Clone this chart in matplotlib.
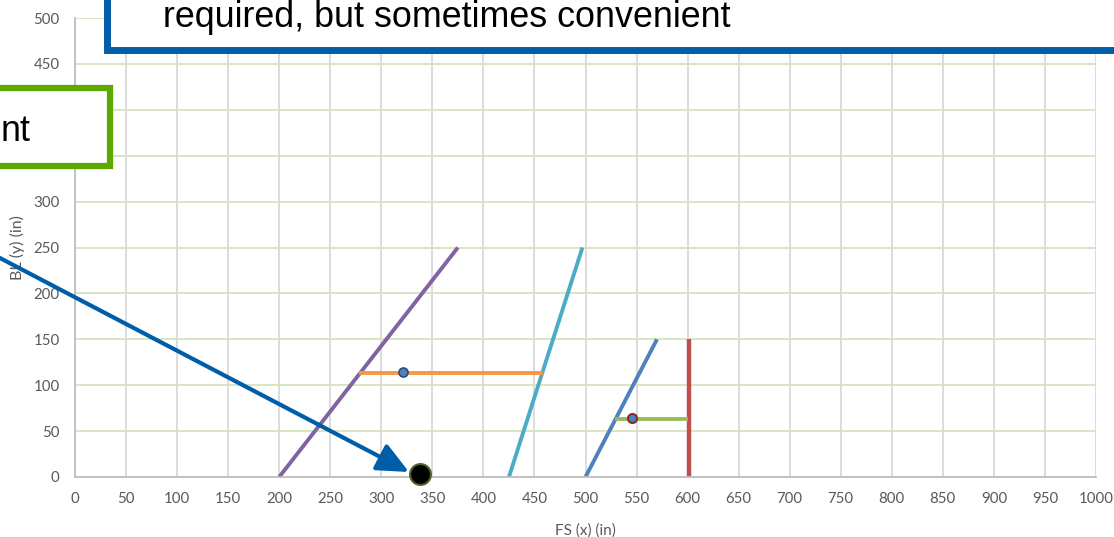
import numpy as np
import matplotlib.pyplot as plt
from matplotlib.patches import Rectangle, FancyArrowPatch

# line segments (FS x, BL y)
purple_x = [200, 375]
purple_y = [0, 250]
cyan_x = [425, 497]
cyan_y = [0, 250]
blue_x = [500, 570]
blue_y = [0, 150]
red_x = [601, 601]
red_y = [0, 150]
orange_x = [278, 458]
orange_y = [113, 113]
green_x = [529, 600]
green_y = [63, 63]
orange_pt = (321, 114)
green_pt = (546, 64)
big_pt = (338, 3)

xticks = np.arange(0, 1001, 50)
yticks = np.arange(0, 501, 50)

W, H = 1114, 537
def px(x, y):
    # pixel (from top-left) -> figure fraction
    return (x / W, 1 - y / H)

fig = plt.figure(figsize=(W / 100, H / 100), dpi=100)
ax = fig.add_axes([75 / W, 1 - 477 / H, (1096 - 75) / W, (477 - 18) / H])

ax.set_xlim(0, 1000)
ax.set_ylim(0, 500)
ax.set_xticks(xticks)
ax.set_yticks(yticks)
ax.tick_params(length=0, labelsize=10.8, labelcolor='#595959', pad=11)
for lab in ax.get_xticklabels() + ax.get_yticklabels():
    lab.set_fontfamily('Lato')
ax.xaxis.grid(True, color='#d9d9d9', lw=1.3)
ax.yaxis.grid(True, color='#d7e4bd', lw=1.3)
ax.set_axisbelow(True)
for s in ['top', 'right']:
    ax.spines[s].set_visible(False)
for s in ['left', 'bottom']:
    ax.spines[s].set_color('#bfbfbf')
    ax.spines[s].set_linewidth(1.3)

ax.set_xlabel('FS (x) (in)', fontsize=11, color='#595959', family='Lato', labelpad=12)
ax.set_ylabel('BL (y) (in)', fontsize=11.5, color='#595959', family='Lato', labelpad=6)

ax.plot(purple_x, purple_y, color='#8064a2', lw=2.8, solid_capstyle='butt', clip_on=False)
ax.plot(cyan_x, cyan_y, color='#4bacc6', lw=2.8, solid_capstyle='butt', clip_on=False)
ax.plot(blue_x, blue_y, color='#4f81bd', lw=2.8, solid_capstyle='butt', clip_on=False)
ax.plot(red_x, red_y, color='#c0504d', lw=3.2, solid_capstyle='butt', clip_on=False)
ax.plot(orange_x, orange_y, color='#f79646', lw=2.8, solid_capstyle='butt')
ax.plot(green_x, green_y, color='#9bbb59', lw=2.8, solid_capstyle='butt')
ax.plot(*orange_pt, 'o', ms=6.5, mfc='#4f81bd', mec='#2c4d75', mew=1.2)
ax.plot(*green_pt, 'o', ms=6.5, mfc='#4f81bd', mec='#8b2a2a', mew=1.5)
ax.plot(*big_pt, 'o', ms=15, mfc='black', mec='#4f6228', mew=1.5, clip_on=False, zorder=5)

# callout arrow
arr = FancyArrowPatch(px(-2, 257), px(409, 472), transform=fig.transFigure,
                      arrowstyle='-|>,head_length=1.2,head_width=0.55', mutation_scale=16,
                      color='#005ea8', lw=3, shrinkA=0, shrinkB=0, zorder=6)
fig.add_artist(arr)

# text boxes
x0, y0 = px(107, 50)
x1, y1 = px(1130, -40)
fig.add_artist(Rectangle((x0, y0), x1 - x0, y1 - y0, transform=fig.transFigure,
                         facecolor='white', edgecolor='#005ea8', lw=5, zorder=7))
fig.text(*px(163, 27), 'required, but sometimes convenient', fontsize=25.8,
         family='Liberation Sans', color='black', va='baseline', zorder=8)

x0, y0 = px(-20, 166)
x1, y1 = px(110, 88)
fig.add_artist(Rectangle((x0, y0), x1 - x0, y1 - y0, transform=fig.transFigure,
                         facecolor='white', edgecolor='#5fa800', lw=4.5, zorder=7))
fig.text(*px(0.5, 141), 'nt', fontsize=25.8, family='Liberation Sans', color='black',
         ha='left', va='baseline', zorder=8)

fig.savefig('out.png', dpi=100)
